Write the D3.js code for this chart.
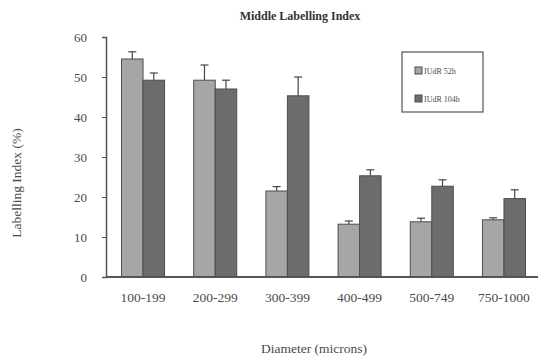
<!DOCTYPE html>
<html>
<head>
<meta charset="utf-8">
<script src="https://cdn.jsdelivr.net/npm/d3@7"></script>
<style>
  body { margin: 0; background: #fff; }
  svg text { font-family: "Liberation Serif", serif; fill: #4a4a4a; }
</style>
</head>
<body>
<svg id="chart"></svg>
<script>
// Diameter groups
var categories = ["100-199", "200-299", "300-399", "400-499", "500-749", "750-1000"];
var seriesNames = ["IUdR 52h", "IUdR 104h"];
// Mean labelling index (%) per group
var values52 = [54.5, 49.2, 21.5, 13.2, 13.8, 14.3];
var values104 = [49.2, 47.0, 45.3, 25.3, 22.7, 19.6];
// Upper end of the error bars
var err52 = [56.3, 53.0, 22.6, 14.0, 14.7, 14.8];
var err104 = [51.0, 49.2, 50.0, 26.8, 24.3, 21.8];
var yTicks = [0, 10, 20, 30, 40, 50, 60];
var colors = ["#a6a6a6", "#6c6c6c"];

var width = 538, height = 357;
var margin = {top: 37, right: 0, bottom: 80, left: 106};

var svg = d3.select("#chart")
    .attr("width", width)
    .attr("height", height);

var x0 = d3.scaleBand()
    .domain(categories)
    .range([margin.left, 541])
    .paddingInner(0.404)
    .paddingOuter(0.215);

var x1 = d3.scaleBand()
    .domain(seriesNames)
    .range([0, x0.bandwidth()]);

var y = d3.scaleLinear()
    .domain([0, 60])
    .range([height - margin.bottom, margin.top]);

// Build rows for drawing
var rows = [];
categories.forEach(function(c, i) {
  rows.push({cat: c, s: seriesNames[0], v: values52[i], e: err52[i], k: 0});
  rows.push({cat: c, s: seriesNames[1], v: values104[i], e: err104[i], k: 1});
});

// Error bars (drawn first so bars sit on top of the stem)
var eb = svg.append("g").attr("stroke", "#444").attr("stroke-width", 1.2);
rows.forEach(function(d) {
  var cx = x0(d.cat) + x1(d.s) + x1.bandwidth() / 2;
  eb.append("line").attr("x1", cx).attr("x2", cx).attr("y1", y(d.v)).attr("y2", y(d.e));
  eb.append("line").attr("x1", cx - 4).attr("x2", cx + 4).attr("y1", y(d.e)).attr("y2", y(d.e));
});

svg.append("g")
  .selectAll("rect")
  .data(rows)
  .enter()
  .append("rect")
    .attr("x", d => x0(d.cat) + x1(d.s))
    .attr("y", d => y(d.v))
    .attr("width", x1.bandwidth())
    .attr("height", d => y(0) - y(d.v))
    .attr("fill", d => colors[d.k])
    .attr("stroke", "#4d4d4d")
    .attr("stroke-width", 1);

// Y axis
var yAxis = svg.append("g")
    .attr("transform", "translate(" + margin.left + ",0)")
    .call(d3.axisLeft(y).tickValues(yTicks).tickSize(4).tickPadding(15));
yAxis.select(".domain").attr("stroke", "#555").attr("stroke-width", 1.5);
yAxis.selectAll(".tick line").attr("stroke", "#555");
yAxis.selectAll("text").style("font-size", "13px").style("fill", "#4a4a4a")
    .style("font-family", "Liberation Serif, serif");

// X axis
var xAxis = svg.append("g")
    .attr("transform", "translate(0," + y(0) + ")")
    .call(d3.axisBottom(x0).tickSize(0).tickPadding(15).tickSizeOuter(0));
xAxis.select(".domain")
    .attr("d", "M" + margin.left + ",0H" + width)
    .attr("stroke", "#555").attr("stroke-width", 2);
xAxis.selectAll("text").style("font-size", "13.5px").style("fill", "#4a4a4a")
    .style("font-family", "Liberation Serif, serif");

// Title
svg.append("text")
    .attr("x", 300).attr("y", 20)
    .attr("text-anchor", "middle")
    .style("font-size", "12px").style("font-weight", "bold")
    .style("fill", "#333")
    .text("Middle Labelling Index");

// Axis titles
svg.append("text")
    .attr("x", 314).attr("y", 353)
    .attr("text-anchor", "middle")
    .style("font-size", "13.5px")
    .text("Diameter (microns)");

svg.append("text")
    .attr("transform", "translate(21,183) rotate(-90)")
    .attr("text-anchor", "middle")
    .style("font-size", "13.5px")
    .text("Labelling Index (%)");

// Legend
var lg = svg.append("g").attr("transform", "translate(402,52)");
lg.append("rect").attr("width", 81).attr("height", 60)
    .attr("fill", "#fff").attr("stroke", "#555").attr("stroke-width", 1.2);
seriesNames.forEach(function(s, i) {
  lg.append("rect").attr("x", 13).attr("y", 15 + i * 28).attr("width", 7).attr("height", 7)
      .attr("fill", colors[i]).attr("stroke", "#4d4d4d");
  lg.append("text").attr("x", 22).attr("y", 22 + i * 28)
      .style("font-size", "8px")
      .text(s);
});
</script>
</body>
</html>
